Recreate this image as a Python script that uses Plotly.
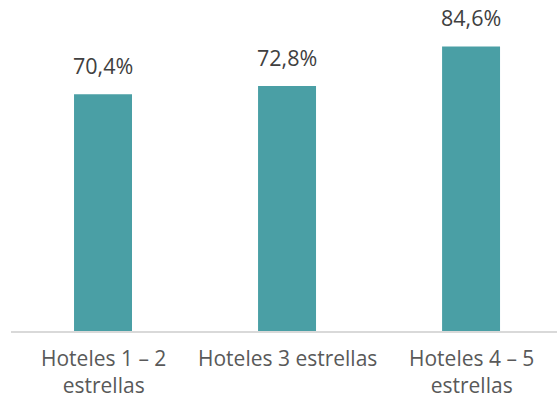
import plotly.graph_objects as go

categories = ["Hoteles 1 – 2<br>estrellas", "Hoteles 3 estrellas", "Hoteles 4 – 5<br>estrellas"]
occupancy = [70.4, 72.8, 84.6]
value_labels = ["70,4%", "72,8%", "84,6%"]

BAR_COLOR = "#4A9FA5"
FONT = "Open Sans"
FONT_SIZE = 21.5
CAT_FONT_SIZE = 21

fig = go.Figure(
    go.Bar(
        x=list(range(len(categories))),
        y=occupancy,
        marker=dict(color=BAR_COLOR, line=dict(width=0)),
        hoverinfo="skip",
    )
)

# value labels sit above each bar
for i, (v, lab) in enumerate(zip(occupancy, value_labels)):
    fig.add_annotation(
        x=i, y=v, text=lab, showarrow=False,
        yanchor="bottom", yshift=12,
        font=dict(family=FONT, size=FONT_SIZE, color="#404040"),
    )

# category labels under the axis
for i, cat in enumerate(categories):
    fig.add_annotation(
        x=i, y=0, text=cat, showarrow=False,
        yanchor="top", yshift=-11, align="center",
        font=dict(family=FONT, size=CAT_FONT_SIZE, color="#595959"),
    )

fig.update_layout(
    width=557, height=403,
    margin=dict(l=11, r=0, t=0, b=72),
    paper_bgcolor="white", plot_bgcolor="white",
    bargap=0.685,
    showlegend=False,
    xaxis=dict(
        range=[-0.5, 2.467],
        showticklabels=False,
        showline=True, linecolor="#D9D9D9", linewidth=1.5,
        showgrid=False, zeroline=False, ticks="",
    ),
    yaxis=dict(
        range=[0, 98.4],
        visible=False,
        showgrid=False, zeroline=False,
    ),
)

fig.write_html("out.html")
